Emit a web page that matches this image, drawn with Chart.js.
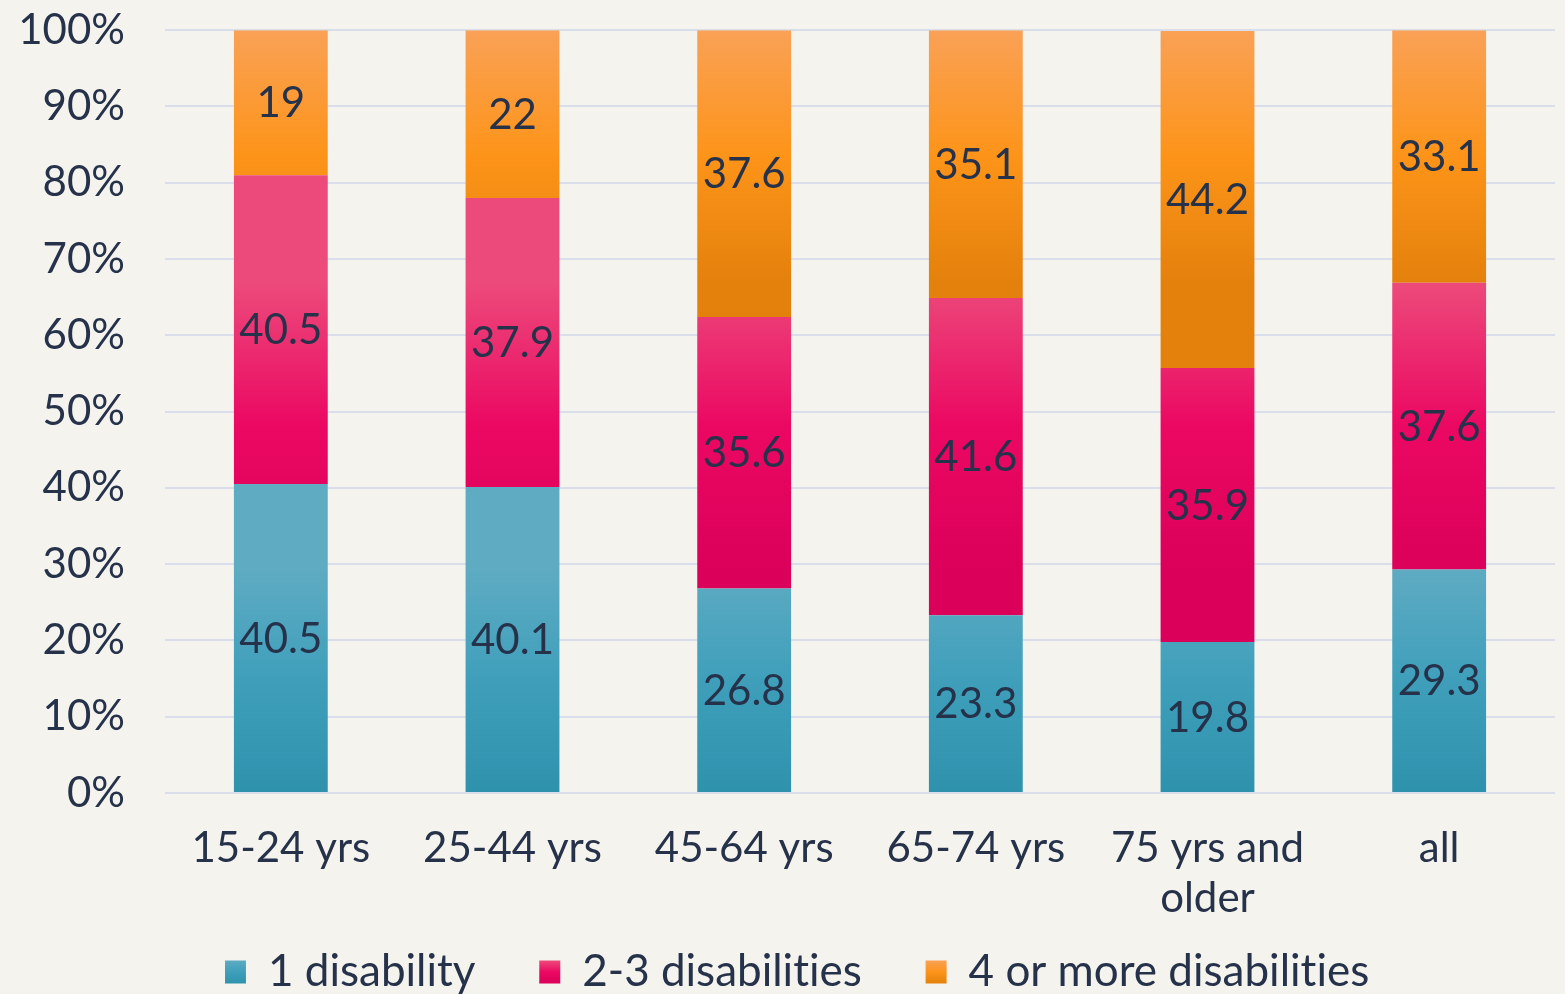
<!DOCTYPE html>
<html>
<head>
<meta charset="utf-8">
<script src="https://cdn.jsdelivr.net/npm/chart.js@4.4.1/dist/chart.umd.min.js"></script>
<style>
  html, body { margin: 0; padding: 0; background: #f4f3ee; overflow: hidden; }
  #wrap { width: 1565px; height: 1004px; position: relative; }
</style>
</head>
<body>
<div id="wrap"><canvas id="disabilityChart"></canvas></div>
<script>
const ageGroups = ['15-24 yrs', '25-44 yrs', '45-64 yrs', '65-74 yrs', ['75 yrs and', 'older'], 'all'];
const oneDisability = [40.5, 40.1, 26.8, 23.3, 19.8, 29.3];
const twoToThree = [40.5, 37.9, 35.6, 41.6, 35.9, 37.6];
const fourOrMore = [19, 22, 37.6, 35.1, 44.2, 33.1];
const yTicks = [0, 10, 20, 30, 40, 50, 60, 70, 80, 90, 100];

// top / middle / bottom stops for each series
const shades = [
  ['#5eabc2', '#3f9fbb', '#2f92ad'],
  ['#ec4a7b', '#eb0862', '#db005a'],
  ['#f9a156', '#fd9419', '#e4810c']
];

const textColor = '#26324a';
const fontFamily = 'Lato, "Open Sans", sans-serif';
const fontSize = 42;

function vGradient(ctx, top, bottom, stops) {
  const g = ctx.createLinearGradient(0, top, 0, bottom);
  g.addColorStop(0, stops[0]);
  g.addColorStop(0.5, stops[1]);
  g.addColorStop(1, stops[2]);
  return g;
}

// plain glyphs, no "ti"/"fi" ligatures
const plainText = {
  id: 'plainText',
  beforeLayout(chart) { chart.ctx.textRendering = 'optimizeSpeed'; },
  beforeDraw(chart) { chart.ctx.textRendering = 'optimizeSpeed'; }
};

// give each bar segment (and legend box) its own vertical gradient
const barGradients = {
  id: 'barGradients',
  beforeDatasetsDraw(chart) {
    const ctx = chart.ctx;
    chart.data.datasets.forEach((ds, i) => {
      chart.getDatasetMeta(i).data.forEach(bar => {
        const top = Math.min(bar.y, bar.base);
        const bottom = Math.max(bar.y, bar.base);
        bar.options.backgroundColor = vGradient(ctx, top, bottom, shades[i]);
      });
    });
  },
  beforeDraw(chart) {
    const legend = chart.legend;
    if (!legend || !legend.legendHitBoxes) return;
    legend.legendItems.forEach((item, i) => {
      if (item.datasetIndex === undefined) return;
      const box = legend.legendHitBoxes[i];
      const top = box.top + (box.height - 23) / 2;
      item.fillStyle = vGradient(chart.ctx, top, top + 23, shades[item.datasetIndex]);
    });
  }
};

// value text in the middle of each segment
const segmentLabels = {
  id: 'segmentLabels',
  afterDatasetsDraw(chart) {
    const ctx = chart.ctx;
    ctx.save();
    ctx.font = fontSize + 'px ' + fontFamily;
    ctx.fillStyle = textColor;
    ctx.textAlign = 'center';
    ctx.textBaseline = 'middle';
    chart.data.datasets.forEach((ds, i) => {
      chart.getDatasetMeta(i).data.forEach((bar, j) => {
        const y = (bar.y + bar.base) / 2;
        ctx.fillText(String(ds.data[j]), bar.x, y + 1);
      });
    });
    ctx.restore();
  }
};

const ctx = document.getElementById('disabilityChart').getContext('2d');

const data = {
  labels: ageGroups,
  datasets: [
    { label: '1 disability', data: oneDisability, backgroundColor: shades[0][1] },
    { label: '2-3 disabilities', data: twoToThree, backgroundColor: shades[1][1] },
    { label: '4 or more disabilities', data: fourOrMore, backgroundColor: shades[2][1] }
  ]
};

const config = {
  type: 'bar',
  data: data,
  options: {
    responsive: true,
    maintainAspectRatio: false,
    animation: false,
    layout: { padding: { top: 10, right: 10, left: 0, bottom: 0 } },
    datasets: {
      bar: { categoryPercentage: 1, barPercentage: 0.405, borderWidth: 0 }
    },
    plugins: {
      tooltip: { enabled: false },
      legend: {
        position: 'bottom',
        labels: {
          color: textColor,
          font: { family: fontFamily, size: 44 },
          boxWidth: 21,
          boxHeight: 23,
          padding: 30,
          // wider gaps between entries, and an empty spacer in front
          // so the row sits a little right of centre
          generateLabels(chart) {
            const items = Chart.defaults.plugins.legend.labels.generateLabels(chart);
            items.forEach((item, i) => {
              item.text += '   ';
            });
            const spacer = {
              text: '', fillStyle: 'rgba(0,0,0,0)', strokeStyle: 'rgba(0,0,0,0)',
              lineWidth: 0, hidden: false, fontColor: textColor
            };
            return [spacer].concat(items);
          }
        }
      }
    },
    scales: {
      x: {
        stacked: true,
        grid: { display: false },
        border: { display: false },
        afterFit(axis) { axis.height = 127; },
        ticks: {
          color: textColor,
          font: { family: fontFamily, size: fontSize, lineHeight: 1.2 },
          padding: 22,
          maxRotation: 0,
          autoSkip: false
        }
      },
      y: {
        stacked: true,
        min: 0,
        max: 100,
        afterBuildTicks(axis) {
          axis.ticks = yTicks.map(v => ({ value: v }));
        },
        afterFit(axis) { axis.width = 165; },
        grid: { color: '#d9deea', lineWidth: 2, drawTicks: true, tickLength: 35, tickColor: 'rgba(0,0,0,0)' },
        border: { display: false },
        ticks: {
          color: textColor,
          font: { family: fontFamily, size: fontSize },
          padding: 5,
          callback: v => v + '%'
        }
      }
    }
  },
  plugins: [plainText, barGradients, segmentLabels]
};

const myChart = new Chart(ctx, config);
</script>
</body>
</html>
